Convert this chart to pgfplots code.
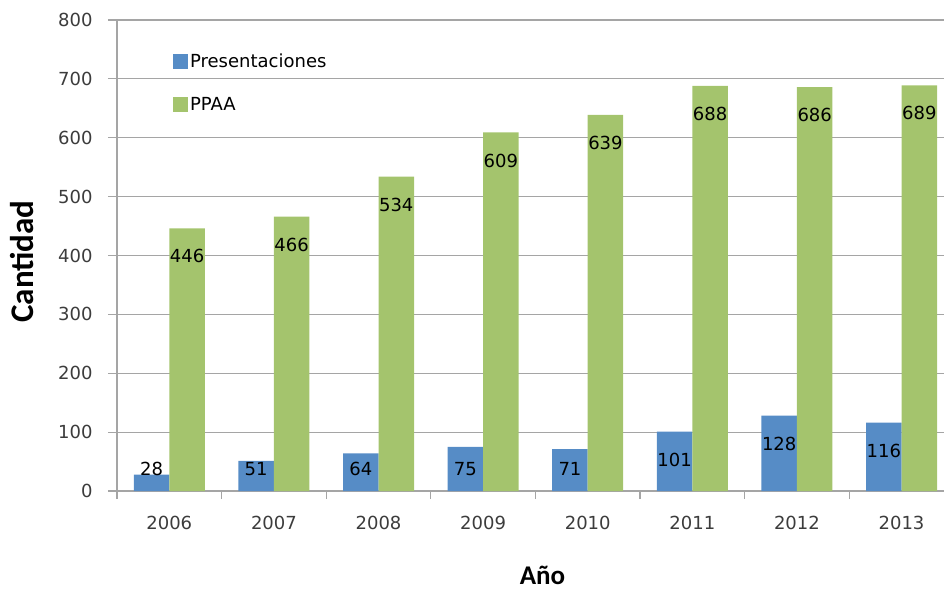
\documentclass[border=0pt]{standalone}
\usepackage{fontspec}
\setmainfont{DejaVu Sans}
\newfontfamily\titlefont{Carlito}
\usepackage{pgfplots}
\pgfplotsset{compat=1.18}
\definecolor{presblue}{RGB}{86,140,198}
\definecolor{ppaagreen}{RGB}{164,196,109}
\definecolor{gridgray}{RGB}{165,165,165}
\definecolor{ticktext}{RGB}{60,60,60}

\begin{document}
\begin{tikzpicture}
\path[use as bounding box] (-117pt,-101pt) rectangle (827pt,491pt);
\begin{axis}[
  at={(0,0)}, anchor=south west,
  scale only axis, width=827pt, height=471pt,
  ybar=0pt, bar width=35.5pt,
  xmin=-0.5, xmax=7.406, ymin=0, ymax=800,
  xtick={0,...,7},
  xticklabels={2006,2007,2008,2009,2010,2011,2012,2013},
  minor xtick={-0.5,0.5,...,7.5},
  ytick={0,100,...,800},
  ymajorgrids, grid style={gridgray, line width=1.2pt},
  axis x line*=bottom, axis y line*=left,
  axis line style={gridgray, line width=1.2pt},
  tick align=outside, major tick length=9pt, minor tick length=8pt,
  major x tick style={draw=none},
  tick style={gridgray, line width=1.2pt},
  tick label style={font=\fontsize{18}{20}\selectfont, text=ticktext},
  xticklabel style={yshift=-13pt},
  yticklabel style={xshift=-12pt},
  /pgf/number format/assume math mode=true,
  xlabel={Año}, ylabel={Cantidad},
  every axis x label/.style={at={(axis description cs:0.5145,-0.18)}, anchor=center,
    inner sep=0pt, font=\titlefont\bfseries\fontsize{27}{30}\selectfont},
  every axis y label/.style={at={(axis description cs:-0.115,0.487)}, rotate=90, anchor=center,
    inner sep=0pt, font=\titlefont\bfseries\fontsize{33}{35}\selectfont},
  legend style={at={(rel axis cs:0.064,0.937)}, anchor=north west, draw=none, fill=none,
    font=\fontsize{18}{20}\selectfont, row sep=24pt,
    /tikz/every even column/.append style={column sep=7pt}},
  legend cell align=left,
  legend image code/.code={\fill[#1] (0pt,-7.5pt) rectangle (15pt,7.5pt);},
  visualization depends on={rawy \as \rawy},
  nodes near coords,
  every node near coord/.append style={anchor=center, text=black,
    font=\fontsize{18}{20}\selectfont,
    yshift={max(-28,(37.3-\rawy)*0.589)}},
]
\addplot[fill=presblue, draw=none] coordinates
  {(0,28)(1,51)(2,64)(3,75)(4,71)(5,101)(6,128)(7,116)};
\addlegendentry{Presentaciones}
\addplot[fill=ppaagreen, draw=none] coordinates
  {(0,446)(1,466)(2,534)(3,609)(4,639)(5,688)(6,686)(7,689)};
\addlegendentry{PPAA}
\end{axis}
\end{tikzpicture}
\end{document}
